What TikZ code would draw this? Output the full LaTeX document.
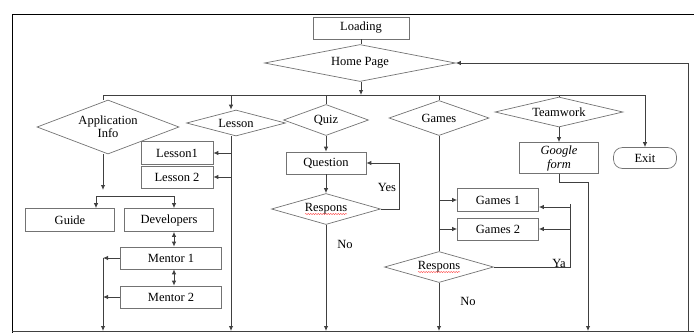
\documentclass[tikz,border=0pt]{standalone}
\usepackage{fontspec}
\setmainfont{Liberation Serif}
\usepackage{tikz}
\usetikzlibrary{shapes.geometric, arrows.meta, positioning, calc, decorations.pathmorphing}

\tikzset{
  box/.style={draw=black!55, line width=0.7pt, rectangle, inner sep=0pt},
  dia/.style={draw=black!55, line width=0.7pt, diamond, inner sep=0pt},
  line/.style={draw=black!75, line width=0.9pt},
  arr/.style={line, -{Latex[length=5pt,width=4.5pt]}},
  dbl/.style={line, {Latex[length=5pt,width=4.5pt]}-{Latex[length=5pt,width=4.5pt]}},
  spell/.style={draw=red!85, line width=0.4pt, decorate, decoration={snake, amplitude=0.5pt, segment length=2.5pt}}
}

\begin{document}
\begin{tikzpicture}[x=1pt, y=-1pt, font=\fontsize{12.5}{13}\selectfont]
\useasboundingbox (0,0) rectangle (694,333);
% frame
\draw[black, line width=1pt] (694,14) -- (12,14) -- (12,333);

% top
\node[box, minimum width=96, minimum height=22] (load) at (361,28) {Loading};
\node[dia, minimum width=191, minimum height=37, shape aspect=5.2] (home) at (360,63) {Home Page};

% main bus and columns
\coordinate (busL) at (103,95);
\coordinate (busR) at (645,95);
\coordinate (colL) at (231,95);
\coordinate (botL) at (12,331);
\coordinate (botR) at (694,331);
\coordinate (botF) at (588,331);
\coordinate (back) at (688,331);

% menu
\node[dia, minimum width=142, minimum height=54, shape aspect=2.63, align=center] (app) at (108,127) {Application\\Info};
\node[dia, minimum width=99, minimum height=26, shape aspect=3.8] (lesson) at (236,123) {Lesson};
\node[dia, minimum width=85, minimum height=31, shape aspect=2.74] (quiz) at (326,120) {Quiz};
\node[dia, minimum width=100, minimum height=35, shape aspect=2.86] (games) at (439,118) {Games};
\node[dia, minimum width=128, minimum height=30, shape aspect=4.27] (team) at (559,112) {Teamwork};
\node[box, rounded corners=9pt, minimum width=63, minimum height=21] (exit) at (645,158) {Exit};

% application info
\node[box, minimum width=89, minimum height=23] (guide) at (70,220) {Guide};
\node[box, minimum width=89, minimum height=23] (dev) at (169,220) {Developers};
\node[box, minimum width=101, minimum height=22] (men1) at (171,258) {Mentor 1};
\node[box, minimum width=101, minimum height=22] (men2) at (171,297) {Mentor 2};
\coordinate (brL) at (96,196);
\coordinate (brR) at (174,196);

% lesson
\node[box, minimum width=72, minimum height=23] (les1) at (177,153) {Lesson1};
\node[box, minimum width=72, minimum height=22] (les2) at (177,177) {Lesson 2};

% quiz
\node[box, minimum width=80, minimum height=22] (quest) at (326,163) {Question};
\node[dia, minimum width=109, minimum height=31, shape aspect=3.5] (resp1) at (326,209) {Respons};
\node (yes) at (387,187) {Yes};
\node (no1) at (345,244) {No};

% games
\node[box, minimum width=81, minimum height=23] (g1) at (498,200) {Games 1};
\node[box, minimum width=81, minimum height=22] (g2) at (498,229) {Games 2};
\node[dia, minimum width=109, minimum height=31, shape aspect=3.5] (resp2) at (439,267) {Respons};
\node (ya) at (559,263) {Ya};
\node (no2) at (468,301) {No};

% teamwork
\node[box, minimum width=79, minimum height=31, align=center, font=\fontsize{12.5}{14}\selectfont\itshape] (form) at (559,158) {Google\\form};

% spell check marks
\draw[spell] ([xshift=-21pt,yshift=-5pt]resp1.center) -- ([xshift=21pt,yshift=-5pt]resp1.center);
\draw[spell] ([xshift=-21pt,yshift=-5pt]resp2.center) -- ([xshift=21pt,yshift=-5pt]resp2.center);

% connectors
\draw[line] (load.south) -- (load.south |- home.north);
\draw[arr] (home.south -| load.south) -- (load.south |- busL);
\draw[line] (busL) -- (busR);
\draw[line] (botL) -- (botR);
\draw[arr] (back) |- (home.east);

\draw[line] (busL) -- (busL |- app.north);
\draw[arr] (busL |- app.south) -- ([yshift=6pt]busL |- brL);
\draw[line] (brL) -- (brR);
\draw[arr] (brL) -- (brL |- guide.north);
\draw[arr] (brR) -- (brR |- dev.north);
\draw[dbl] (brR |- dev.south) -- (brR |- men1.north);
\draw[dbl] (brR |- men1.south) -- (brR |- men2.north);
\draw[arr] (men1.west) -- (men1.west -| busL);
\draw[arr] (men2.west) -- (men2.west -| busL);
\draw[arr] (men1.west -| busL) -- (busL |- botL);

\draw[arr] (colL) -- (colL |- lesson.north);
\draw[arr] (colL |- lesson.south) -- (colL |- botL);
\draw[arr] (colL |- les1.east) -- (les1.east);
\draw[arr] (colL |- les2.east) -- (les2.east);

\draw[line] (quiz.north |- busL) -- (quiz.north);
\draw[arr] (quiz.south) -- (quest.north);
\draw[arr] (quest.south) -- (resp1.north);
\draw[arr] (resp1.east) -| ([xshift=33pt]quest.east) -- (quest.east);
\draw[arr] (resp1.south) -- (resp1.south |- botL);

\draw[line] (games.north |- busL) -- (games.north);
\draw[line] (games.south) -- (resp2.north);
\draw[arr] (games.south |- g1.west) -- (g1.west);
\draw[arr] (games.south |- g2.west) -- (g2.west);
\draw[line] (resp2.east) -| ([xshift=32pt,yshift=-4pt]g1.east);
\draw[arr] ([xshift=32pt,yshift=-7pt]g1.east) -- ([yshift=-7pt]g1.east);
\draw[arr] ([xshift=32pt]g2.east) -- (g2.east);
\draw[arr] (resp2.south) -- (resp2.south |- botL);

\draw[line] (team.north |- busL) -- (team.north);
\draw[arr] (team.south) -- (form.north);
\draw[arr] (form.south) -- ++(0,9) -| (botF);
\draw[arr] (busR) -- (exit.north);
\end{tikzpicture}
\end{document}
